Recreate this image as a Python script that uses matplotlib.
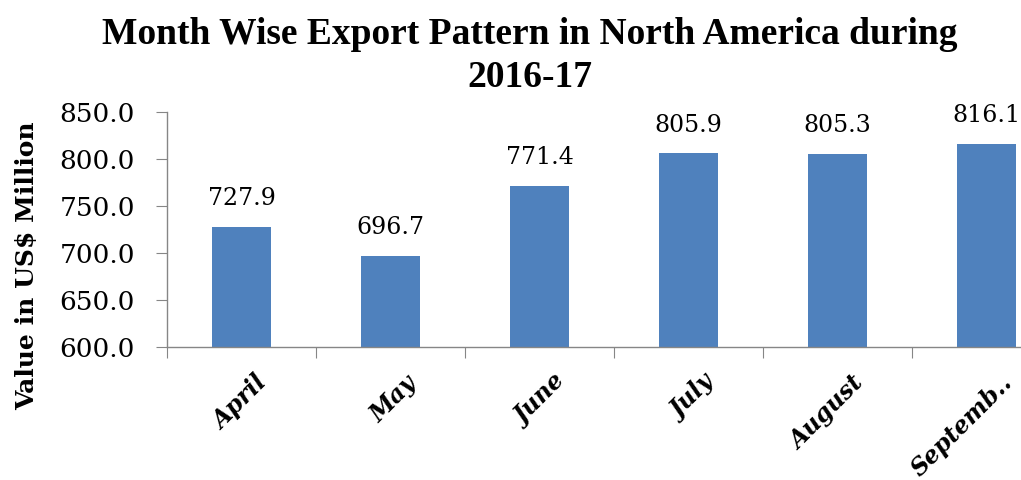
import matplotlib
matplotlib.use("Agg")
import matplotlib.pyplot as plt
from matplotlib.transforms import ScaledTranslation

months = ["April", "May", "June", "July", "August", "Septemb.."]
values = [727.9, 696.7, 771.4, 805.9, 805.3, 816.1]
yticks = [600.0, 650.0, 700.0, 750.0, 800.0, 850.0]

plt.rcParams['font.family'] = ['DejaVu Serif']

fig = plt.figure(figsize=(10.21, 4.8), dpi=100)
ax = fig.add_axes([167/1021, 133/480, 894/1021, 235/480])
x = list(range(len(months)))
ax.bar(x, values, width=0.4, color="#4F81BD", zorder=2)
ax.set_xlim(-0.5, 5.5)
ax.set_ylim(600, 850)
ax.set_yticks(yticks)
ax.set_yticklabels([f"{v:.1f}" for v in yticks], fontsize=19)
ax.set_xticks([i - 0.5 for i in range(len(months) + 1)], minor=False)
ax.set_xticklabels([""] * (len(months) + 1))
ax.set_xticks(x, minor=True)
ax.set_xticklabels(months, minor=True, rotation=45, ha="right", rotation_mode="anchor",
                   fontsize=17, fontweight="bold", fontstyle="italic")
ax.tick_params(axis="x", which="minor", length=0, pad=17)
for lab in ax.get_xticklabels(minor=True):
    lab.set_transform(lab.get_transform() + ScaledTranslation(14/100, 0, fig.dpi_scale_trans))
ax.tick_params(axis="x", which="major", length=8, color="#868686", direction="out")
ax.tick_params(axis="y", length=8, color="#868686", direction="out", pad=15)
for s in ["top", "right"]:
    ax.spines[s].set_visible(False)
for s in ["left", "bottom"]:
    ax.spines[s].set_color("#868686")
    ax.spines[s].set_linewidth(1)
for xi, v in zip(x, values):
    ax.annotate(f"{v:.1f}", (xi, v), xytext=(0, 12), textcoords="offset points",
                ha="center", va="bottom", fontsize=17)
ax.set_ylabel("Value in US$ Million", fontsize=18, fontweight="bold")
ax.yaxis.set_label_coords(-128/894, (480-266-133)/235)
fig.text(530/1021, 0.965, "Month Wise Export Pattern in North America during\n2016-17",
         ha="center", va="top", fontsize=27, fontweight="bold", linespacing=1.3,
         family="Liberation Serif")
fig.savefig("out.png", dpi=100)
